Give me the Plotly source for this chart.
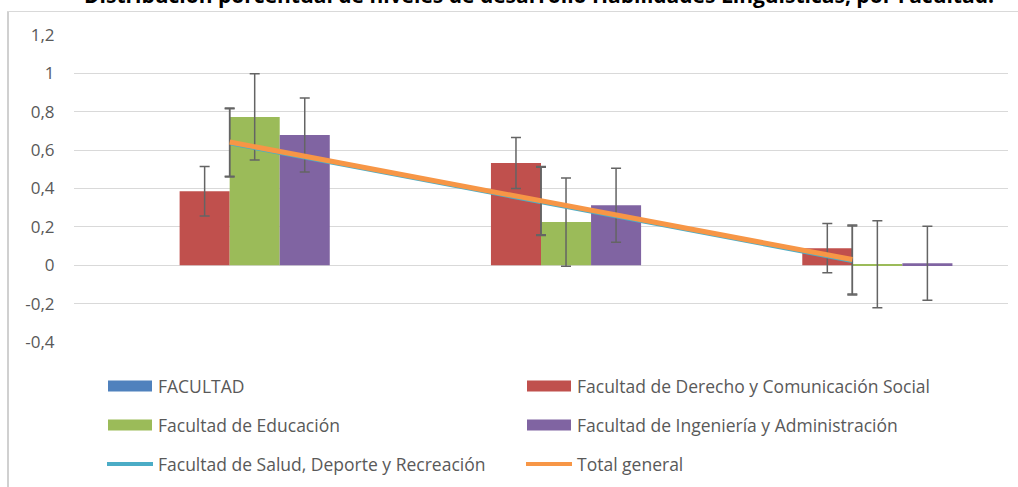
import plotly.graph_objects as go

# ---------------- data ----------------
categories = ["Nivel 1", "Nivel 2", "Nivel 3"]

facultad = [None, None, None]
derecho = [0.386, 0.533, 0.089]
derecho_err = [0.129, 0.133, 0.128]
educacion = [0.773, 0.225, 0.005]
educacion_err = [0.225, 0.23, 0.227]
ingenieria = [0.679, 0.313, 0.01]
ingenieria_err = [0.193, 0.193, 0.193]
salud = [0.638, 0.333, 0.025]
salud_err = [0.178, 0.178, 0.18]
total = [0.642, 0.337, 0.03]
total_err = [0.178, 0.178, 0.18]

tick_vals = [-0.4, -0.2, 0, 0.2, 0.4, 0.6, 0.8, 1, 1.2]
tick_text = ["-0,4", "-0,2", "0", "0,2", "0,4", "0,6", "0,8", "1", "1,2"]

series_names = [
    "FACULTAD",
    "Facultad de Derecho y Comunicación Social",
    "Facultad de Educación",
    "Facultad de Ingeniería y Administración",
    "Facultad de Salud, Deporte y Recreación",
    "Total general",
]
title_text = "Distribución porcentual de niveles de desarrollo Habilidades Lingüísticas, por Facultad."

# ---------------- style ----------------
W, H = 1018, 487
ML, MR, MT, MB = 74, 10, 35, 145
PW, PH = W - ML - MR, H - MT - MB
C_BLUE, C_RED, C_GREEN, C_PURPLE = "#4F81BD", "#C0504D", "#9BBB59", "#8064A2"
C_CYAN, C_ORANGE = "#4BACC6", "#F79646"
ERR_COLOR = "#646464"
TXT = "#595959"
FONT = "Open Sans"


def fx(px):
    return (px - ML) / PW


def fy(py):
    return (H - MB - py) / PH


def err(arr):
    return dict(type="data", array=arr, visible=True, color=ERR_COLOR, thickness=1.5, width=5)


fig = go.Figure()
fig.add_trace(go.Bar(x=categories, y=facultad, name=series_names[0], marker_color=C_BLUE, offsetgroup="0"))
fig.add_trace(go.Bar(x=categories, y=derecho, name=series_names[1], marker_color=C_RED,
                     error_y=err(derecho_err), offsetgroup="1"))
fig.add_trace(go.Bar(x=categories, y=educacion, name=series_names[2], marker_color=C_GREEN,
                     error_y=err(educacion_err), offsetgroup="2"))
fig.add_trace(go.Bar(x=categories, y=ingenieria, name=series_names[3], marker_color=C_PURPLE,
                     error_y=err(ingenieria_err), offsetgroup="3"))
fig.add_trace(go.Scatter(x=categories, y=salud, name=series_names[4], mode="lines",
                         line=dict(color=C_CYAN, width=5), error_y=err(salud_err)))
fig.add_trace(go.Scatter(x=categories, y=total, name=series_names[5], mode="lines",
                         line=dict(color=C_ORANGE, width=5), error_y=err(total_err)))
for tr in fig.data:
    tr.showlegend = False
    tr.marker.line.width = 0

# ---------------- manual legend ----------------
shapes = []
annotations = []
legend_pos = [(108, 386), (527, 386), (108, 425), (527, 425), (108, 464), (527, 464)]
legend_kind = ["bar", "bar", "bar", "bar", "line", "line"]
legend_col = [C_BLUE, C_RED, C_GREEN, C_PURPLE, C_CYAN, C_ORANGE]
for (lx, ly), kind, col, name in zip(legend_pos, legend_kind, legend_col, series_names):
    if kind == "bar":
        shapes.append(dict(type="rect", xref="paper", yref="paper",
                           x0=fx(lx), x1=fx(lx + 44), y0=fy(ly - 5.5), y1=fy(ly + 5.5),
                           fillcolor=col, line=dict(width=0)))
    else:
        shapes.append(dict(type="line", xref="paper", yref="paper",
                           x0=fx(lx - 1), x1=fx(lx + 45), y0=fy(ly), y1=fy(ly),
                           line=dict(color=col, width=4)))
    annotations.append(dict(text=name, xref="paper", yref="paper", x=fx(lx + 48), y=fy(ly),
                            xanchor="left", yanchor="middle", showarrow=False,
                            font=dict(family=FONT, size=17.5, color=TXT)))

# chart frame (left and top borders)
shapes.append(dict(type="line", xref="paper", yref="paper", x0=fx(8), x1=fx(8),
                   y0=fy(11.5), y1=fy(H + 5), line=dict(color="#D0D0D0", width=2)))
shapes.append(dict(type="line", xref="paper", yref="paper", x0=fx(7), x1=fx(W + 5),
                   y0=fy(11.5), y1=fy(11.5), line=dict(color="#D9D9D9", width=1)))

# title (cut at top as in reference)
annotations.append(dict(text="<b>" + title_text + "</b>", xref="paper", yref="paper",
                        x=fx(539), y=fy(11), xanchor="center", yanchor="bottom", showarrow=False,
                        font=dict(family=FONT, size=21, color="#000000")))

fig.update_layout(
    width=W, height=H,
    margin=dict(l=ML, r=MR, t=MT, b=MB, pad=0),
    paper_bgcolor="white", plot_bgcolor="white",
    barmode="group", bargap=0.357, bargroupgap=0,
    separators=",.",
    showlegend=False,
    shapes=shapes, annotations=annotations,
    font=dict(family=FONT, color=TXT),
    xaxis=dict(showticklabels=False, showgrid=False, zeroline=False, showline=False, ticks=""),
    yaxis=dict(range=[-0.4, 1.2], tickvals=tick_vals, ticktext=tick_text,
               showgrid=True, gridcolor="#D9D9D9", gridwidth=1,
               zeroline=True, zerolinecolor="#D9D9D9", zerolinewidth=1,
               showline=False, ticks="outside", ticklen=15, tickcolor="rgba(0,0,0,0)",
               tickfont=dict(family=FONT, size=17, color=TXT)),
)

fig.write_html("out.html", config={"displayModeBar": False},
               post_script="document.body.style.margin='0';document.body.style.overflow='hidden';")
